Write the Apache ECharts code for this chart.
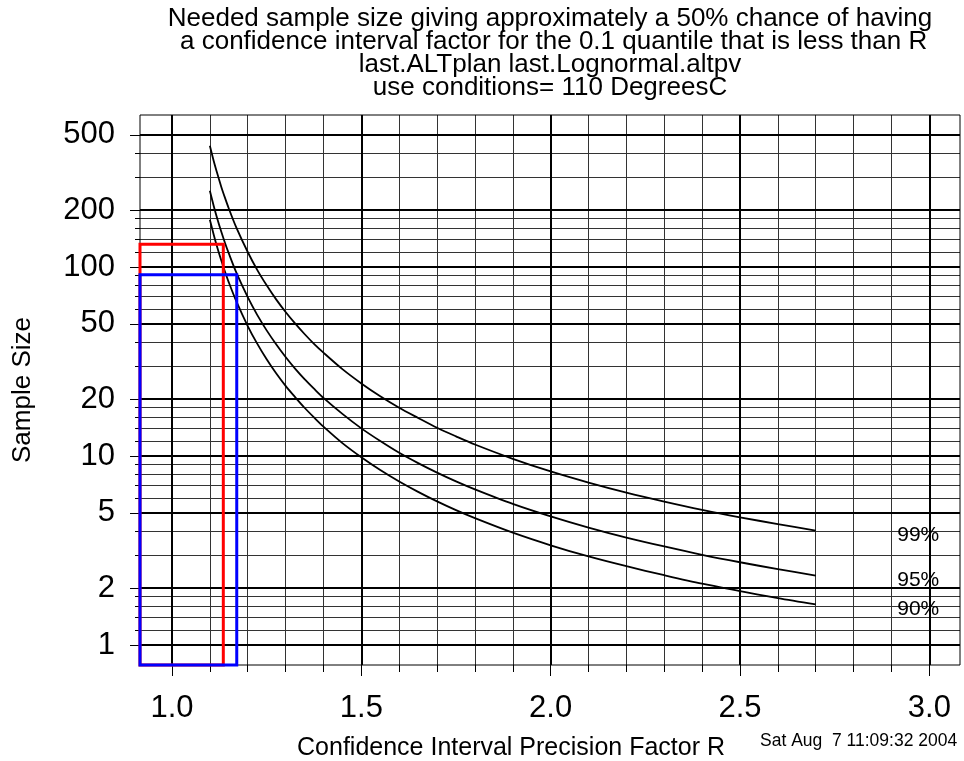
<!DOCTYPE html>
<html>
<head>
<meta charset="utf-8">
<script src="https://cdn.jsdelivr.net/npm/echarts@6/dist/echarts.min.js"></script>
<style>
html,body{margin:0;padding:0;background:#fff;}
#chart{width:964px;height:761px;}
</style>
</head>
<body>
<div id="chart"></div>
<script>
// ---------------- data ----------------
const titleLines = [
  'Needed sample size giving approximately a 50% chance of having',
  ' a confidence interval factor for the 0.1 quantile that is less than R',
  'last.ALTplan last.Lognormal.altpv',
  'use conditions= 110 DegreesC'
];
const xAxisTitle = 'Confidence Interval Precision Factor R';
const yAxisTitle = 'Sample Size';
const dateStamp = 'Sat Aug  7 11:09:32 2004';

const ratioR = [1.10, 1.11, 1.12, 1.13, 1.14, 1.15, 1.17, 1.20, 1.225, 1.25, 1.275, 1.30, 1.325, 1.35,
                1.375, 1.40, 1.45, 1.50, 1.55, 1.60, 1.65, 1.70, 1.75, 1.80, 1.90, 2.00, 2.10,
                2.20, 2.30, 2.40, 2.50, 2.60, 2.70];
const n99 = [438, 365, 310, 266, 232, 204, 161.5, 120, 96.6, 80.0, 67.4, 57.8, 50.3, 44.2,
             39.2, 35.2, 28.8, 24.2, 20.7, 18.0, 15.9, 14.1, 12.7, 11.5, 9.66, 8.28, 7.23,
             6.40, 5.74, 5.19, 4.74, 4.36, 4.03];
const n95 = [253, 211, 179, 154, 134, 118, 93.3, 69.2, 55.8, 46.2, 39.0, 33.4, 29.0, 25.5,
             22.7, 20.3, 16.7, 14.0, 12.0, 10.4, 9.17, 8.17, 7.34, 6.66, 5.58, 4.79, 4.18,
             3.70, 3.32, 3.00, 2.74, 2.52, 2.33];
const n90 = [178, 148.7, 126, 108.5, 94.4, 82.9, 65.7, 48.7, 39.3, 32.5, 27.4, 23.5, 20.5, 18.0,
             16.0, 14.3, 11.7, 9.85, 8.43, 7.33, 6.46, 5.75, 5.17, 4.69, 3.93, 3.37, 2.94,
             2.61, 2.34, 2.11, 1.93, 1.77, 1.64];
const curveNames = ['99%', '95%', '90%'];

const planR = [1.1355, 1.171];   // red, blue
const planN = [132, 91];

const xMajor = [1.0, 1.5, 2.0, 2.5, 3.0];
const xMinor = [1.1, 1.2, 1.3, 1.4, 1.6, 1.7, 1.8, 1.9, 2.1, 2.2, 2.3, 2.4, 2.6, 2.7, 2.8, 2.9];
const yMajor = [1, 2, 5, 10, 20, 50, 100, 200, 500];
const yMinor = [1.2, 1.4, 1.6, 1.8, 3, 4, 6, 7, 8, 9, 12, 14, 16, 18, 30, 40, 60, 70, 80, 90,
                120, 140, 160, 180, 300, 400];

// ---------------- layout / style ----------------
const X_MIN = 0.9155, X_MAX = 3.081;
const Y_MIN = 0.7837, Y_MAX = 637;
const FONT = '"Liberation Sans", Arial, Helvetica, sans-serif';
const planColors = ['#ff0000', '#0000ff'];
const GRID = {left: 140, top: 115, width: 820, height: 550};

const chart = echarts.init(document.getElementById('chart'), null, {renderer: 'canvas'});

function txt(text, x, y, size, align, rot) {
  return {
    type: 'text', x: x, y: y, rotation: rot || 0, silent: true,
    style: {
      text: text, fill: '#000', font: size + 'px ' + FONT,
      align: align, textAlign: align, verticalAlign: 'middle', textVerticalAlign: 'middle'
    }
  };
}

const curves = [n99, n95, n90];
const series = [];
curves.forEach(function (vals, i) {
  series.push({
    type: 'line', name: curveNames[i], xAxisIndex: 0, yAxisIndex: 0,
    data: ratioR.map(function (r, j) { return [r, vals[j]]; }),
    smooth: 0.3, symbol: 'none', silent: true, z: 3,
    lineStyle: {color: '#000', width: 1.8}
  });
});
planR.forEach(function (r, i) {
  const n = planN[i];
  series.push({
    type: 'line', xAxisIndex: 0, yAxisIndex: 0, clip: false, symbol: 'none', silent: true, z: 4,
    data: [[X_MIN, n], [r, n], [r, Y_MIN], [X_MIN, Y_MIN], [X_MIN, n]],
    lineStyle: {color: planColors[i], width: 3, join: 'miter', cap: 'square'}
  });
});
series.push({
  type: 'scatter', xAxisIndex: 0, yAxisIndex: 0, symbolSize: 0, silent: true, z: 5,
  itemStyle: {opacity: 1, color: '#000'},
  data: curves.map(function (vals) { return [ratioR[ratioR.length - 1], vals[vals.length - 1]]; }),
  label: {
    show: true, position: 'right', distance: 81.5, offset: [0, 5],
    formatter: function (p) { return curveNames[p.dataIndex]; },
    color: '#000', opacity: 1, fontSize: 21, fontFamily: FONT
  }
});

const option = {
  animation: false,
  backgroundColor: '#fff',
  grid: [
    Object.assign({show: true, borderColor: '#000', borderWidth: 1, backgroundColor: 'transparent', z: 1}, GRID),
    Object.assign({show: false}, GRID)
  ],
  xAxis: [
    {
      gridIndex: 0, type: 'value', min: X_MIN, max: X_MAX, z: 1,
      axisLine: {show: false},
      axisTick: {show: true, length: 11, customValues: xMajor, lineStyle: {color: '#000', width: 1}},
      axisLabel: {show: true, customValues: xMajor, margin: 28, fontSize: 31, color: '#000', fontFamily: FONT,
                  formatter: function (v) { return Number(v).toFixed(1); }},
      splitLine: {show: true, lineStyle: {color: '#000', width: 2}}
    },
    {
      gridIndex: 1, type: 'value', min: X_MIN, max: X_MAX, z: 0,
      axisLine: {show: false},
      axisTick: {show: true, length: 7, customValues: xMinor, lineStyle: {color: '#000', width: 1}},
      axisLabel: {show: false},
      splitLine: {show: true, lineStyle: {color: '#333', width: 1}}
    }
  ],
  yAxis: [
    {
      gridIndex: 0, type: 'log', logBase: 10, min: Y_MIN, max: Y_MAX, z: 1,
      axisLine: {show: false},
      axisTick: {show: true, length: 10, customValues: yMajor, lineStyle: {color: '#000', width: 1}},
      axisLabel: {show: true, customValues: yMajor, margin: 25, fontSize: 31, color: '#000', fontFamily: FONT,
                  padding: [9, 0, 0, 0],
                  formatter: function (v) { return String(Math.round(v)); }},
      splitLine: {show: true, lineStyle: {color: '#000', width: 2}}
    },
    {
      gridIndex: 1, type: 'log', logBase: 10, min: Y_MIN, max: Y_MAX, z: 0,
      axisLine: {show: false},
      axisTick: {show: true, length: 5, customValues: yMinor, lineStyle: {color: '#000', width: 1}},
      axisLabel: {show: false},
      splitLine: {show: true, lineStyle: {color: '#333', width: 1}}
    }
  ],
  series: series,
  graphic: [
    txt(titleLines[0], 550, 19, 26, 'center'),
    txt(titleLines[1], 550, 42, 26, 'center'),
    txt(titleLines[2], 550, 65, 26, 'center'),
    txt(titleLines[3], 550, 88, 26, 'center'),
    txt(xAxisTitle, 511, 748, 25, 'center'),
    txt(dateStamp, 760, 741, 17.5, 'left'),
    txt(yAxisTitle, 23, 390, 26, 'center', Math.PI / 2)
  ]
};
chart.setOption(option);
</script>
</body>
</html>
